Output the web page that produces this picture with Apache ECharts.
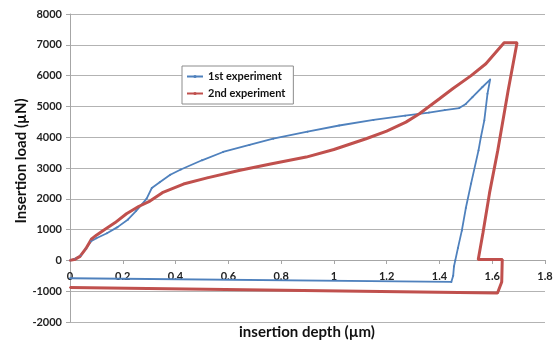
<!DOCTYPE html>
<html>
<head>
<meta charset="utf-8">
<script src="https://cdn.jsdelivr.net/npm/echarts@6/dist/echarts.min.js"></script>
<style>
  html, body { margin: 0; padding: 0; background: #fff; }
  #chart { width: 557px; height: 341px; }
</style>
</head>
<body>
<div id="chart"></div>
<script>
// 1st experiment: depth (µm) / load (µN)
const depth1 = [0, 0.02, 0.04, 0.06, 0.08, 0.10, 0.14, 0.18, 0.22, 0.25, 0.29, 0.31, 0.34, 0.38, 0.42,
  0.50, 0.58, 0.68, 0.77, 0.90, 1.02, 1.15, 1.27, 1.36, 1.42, 1.475, 1.50, 1.525, 1.563, 1.592,
  1.582, 1.570, 1.557, 1.548, 1.52, 1.50, 1.485, 1.47, 1.46, 1.455, 1.452, 1.445, 0];
const load1 = [0, 50, 150, 380, 620, 720, 880, 1080, 1330, 1600, 2000, 2350, 2540, 2780, 2950,
  3250, 3520, 3750, 3950, 4180, 4380, 4560, 4700, 4800, 4880, 4945, 5080, 5300, 5630, 5870,
  5410, 4545, 4000, 3571, 2500, 1700, 974, 400, 0, -200, -500, -700, -580];

// 2nd experiment
const depth2 = [0, 0.02, 0.038, 0.06, 0.082, 0.10, 0.126, 0.17, 0.214, 0.26, 0.303, 0.35, 0.43, 0.52,
  0.64, 0.76, 0.895, 1.0, 1.122, 1.2, 1.273, 1.324, 1.40, 1.45, 1.52, 1.576, 1.645, 1.694,
  1.66, 1.621, 1.59, 1.565, 1.547, 1.638, 1.636, 1.62, 0];
const load2 = [0, 40, 130, 380, 700, 820, 974, 1220, 1515, 1750, 1926, 2200, 2480, 2680,
  2920, 3130, 3354, 3600, 3950, 4200, 4490, 4762, 5250, 5575, 6000, 6385, 7068, 7068,
  5500, 3571, 2200, 900, 30, 30, -700, -1060, -880];

const seriesNames = ['1st experiment', '2nd experiment'];
const xTitle = 'insertion depth (µm)';
const yTitle = 'Insertion load (µN)';

const pair = (xs, ys) => xs.map((x, i) => [x, ys[i]]);

const chart = echarts.init(document.getElementById('chart'), null, { renderer: 'canvas' });
const font = 'Lato, "Liberation Sans", sans-serif';
const titleStyle = { fontFamily: font, fontWeight: 'bold', fontSize: 15, fill: '#111' };

chart.setOption({
  animation: false,
  grid: { left: 70, right: 12, top: 14, bottom: 19, containLabel: false, outerBoundsMode: 'none' },
  // axis titles as plain text, placed like the original
  graphic: [
    {
      type: 'text', x: 307, y: 332,
      style: Object.assign({ text: xTitle, textAlign: 'center', textVerticalAlign: 'middle' }, titleStyle)
    },
    {
      type: 'text', x: 21, y: 161, rotation: Math.PI / 2,
      style: Object.assign({ text: yTitle, textAlign: 'center', textVerticalAlign: 'middle' }, titleStyle)
    }
  ],
  legend: {
    data: [
      { name: seriesNames[0], itemStyle: { color: '#4f81bd' } },
      { name: seriesNames[1], itemStyle: { color: '#c0504d' } }
    ],
    orient: 'vertical',
    left: 182,
    top: 66,
    padding: [5, 8, 5, 4],
    itemGap: 6,
    itemWidth: 16,
    itemHeight: 4,
    backgroundColor: '#fff',
    borderColor: '#8c8c8c',
    borderWidth: 1,
    textStyle: { fontFamily: font, fontWeight: 'bold', fontSize: 11, color: '#111' }
  },
  xAxis: {
    type: 'value',
    min: 0,
    max: 1.8,
    interval: 0.2,
    // lift the whole axis (line, ticks, labels) up to the zero line
    offset: -62,
    axisLine: { onZero: false, lineStyle: { color: '#a6a6a6', width: 1 } },
    axisTick: { show: true, length: 4, lineStyle: { color: '#a6a6a6' } },
    axisLabel: { fontFamily: font, fontWeight: 'bold', fontSize: 11, color: '#222', margin: 11,
      formatter: v => String(v) },
    splitLine: { show: false }
  },
  yAxis: {
    type: 'value',
    min: -2000,
    max: 8000,
    interval: 1000,
    axisLine: { show: true, lineStyle: { color: '#a6a6a6', width: 1 } },
    axisTick: { show: true, length: 4, lineStyle: { color: '#a6a6a6' } },
    axisLabel: { fontFamily: font, fontWeight: 'bold', fontSize: 11, color: '#222', margin: 8,
      formatter: v => String(v) },
    splitLine: { show: true, lineStyle: { color: '#b3b3b3', width: 1 } }
  },
  series: [
    {
      name: seriesNames[0],
      type: 'line',
      data: pair(depth1, load1),
      color: '#4f81bd',
      lineStyle: { width: 1.8, color: '#4f81bd' },
      symbol: 'circle',
      symbolSize: 2,
      showSymbol: true,
      itemStyle: { color: '#4f81bd' }
    },
    {
      name: seriesNames[1],
      type: 'line',
      data: pair(depth2, load2),
      color: '#c0504d',
      lineStyle: { width: 3, color: '#c0504d' },
      symbol: 'circle',
      symbolSize: 2,
      showSymbol: true,
      itemStyle: { color: '#c0504d' }
    }
  ]
});
</script>
</body>
</html>
